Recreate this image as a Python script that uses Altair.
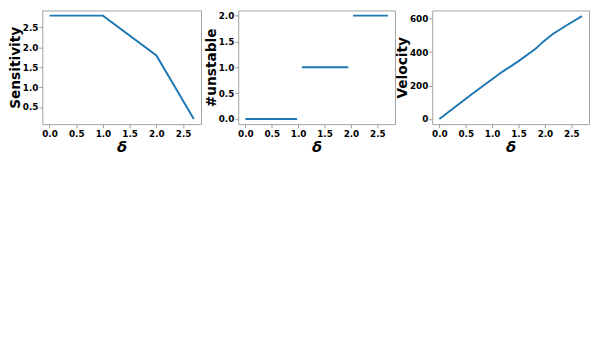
import altair as alt
import pandas as pd

# Sensitivity panel
sens_x = [0.0, 1.0, 2.0, 2.7]
sens_y = [2.8, 2.8, 1.8, 0.2]

# #unstable panel (three flat segments)
unst_x = [0.0, 0.98, 1.07, 1.95, 2.04, 2.7]
unst_y = [0, 0, 1, 1, 2, 2]
unst_seg = [0, 0, 1, 1, 2, 2]

# Velocity panel
vel_x = [0.0, 0.6, 1.19, 1.3, 1.5, 1.79, 1.85, 1.95, 2.15, 2.39, 2.7]
vel_y = [0, 145, 282, 304, 346, 413, 427, 458, 508, 556, 615]

x_ticks = [0.0, 0.5, 1.0, 1.5, 2.0, 2.5]
x_dom = [-0.135, 2.835]
FONT = "DejaVu Sans"
BLUE = "#1f77b4"


def xenc():
    return alt.X(
        "x:Q",
        scale=alt.Scale(domain=x_dom, nice=False, zero=False),
        axis=alt.Axis(values=x_ticks, format=".1f", title="δ",
                      titleFontStyle="italic", titleFontSize=15, titlePadding=1),
    )


def panel(df, ytitle, ydom, yticks, yfmt, w, detail=None):
    enc = dict(
        x=xenc(),
        y=alt.Y("y:Q", scale=alt.Scale(domain=ydom, nice=False, zero=False),
                axis=alt.Axis(values=yticks, format=yfmt, title=ytitle,
                              titleFontSize=14, titlePadding=0, labelPadding=1)),
    )
    if detail:
        enc["detail"] = detail
    return alt.Chart(df).mark_line(color=BLUE, strokeWidth=2, clip=True).encode(**enc).properties(
        width=w, height=116
    )


p1 = panel(pd.DataFrame({"x": sens_x, "y": sens_y}), "Sensitivity", [0.07, 2.93],
           [0.5, 1.0, 1.5, 2.0, 2.5], ".1f", 162)
p2 = panel(pd.DataFrame({"x": unst_x, "y": unst_y, "seg": unst_seg}), "#unstable", [-0.1, 2.1],
           [0.0, 0.5, 1.0, 1.5, 2.0], ".1f", 160, detail="seg:N")
p3 = panel(pd.DataFrame({"x": vel_x, "y": vel_y}), "Velocity", [-31, 649],
           [0, 200, 400, 600], "d", 160)

chart = alt.hconcat(p1, p2, p3, spacing=38, bounds="flush").properties(
    padding={"left": 0, "top": 0, "right": 0, "bottom": 0}
).configure_view(
    stroke="#a0a0a0", strokeWidth=1
).configure_axis(
    labelFont=FONT, titleFont=FONT, labelFontWeight="bold", titleFontWeight="bold",
    labelFontSize=9, labelColor="black", titleColor="black",
    grid=False, domain=False, tickColor="#999999", tickSize=3.5, labelPadding=2,
)

chart.save("out.html", embed_options={"renderer": "svg", "actions": False})
